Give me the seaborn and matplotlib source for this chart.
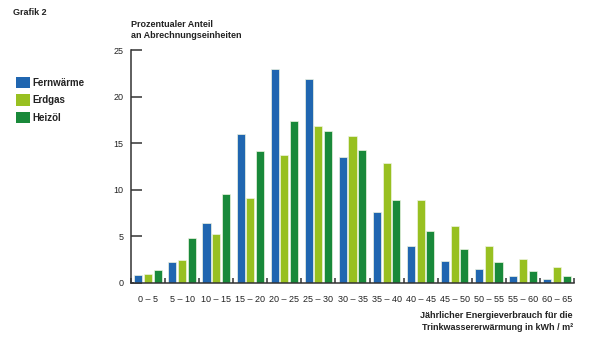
import matplotlib
matplotlib.use("Agg")
import matplotlib.pyplot as plt
import seaborn as sns
import pandas as pd
import numpy as np
from matplotlib.patches import Patch

categories = ["0 – 5", "5 – 10", "10 – 15", "15 – 20", "20 – 25", "25 – 30", "30 – 35",
              "35 – 40", "40 – 45", "45 – 50", "50 – 55", "55 – 60", "60 – 65"]
fernwaerme = [0.83, 2.2, 6.4, 16.0, 23.0, 21.9, 13.5, 7.6, 4.0, 2.4, 1.45, 0.72, 0.43]
erdgas = [0.97, 2.47, 5.3, 9.15, 13.7, 16.8, 15.77, 12.85, 8.9, 6.08, 4.0, 2.6, 1.72]
heizoel = [1.43, 4.83, 9.6, 14.15, 17.4, 16.3, 14.27, 8.94, 5.58, 3.65, 2.2, 1.25, 0.79]
series_names = ["Fernwärme", "Erdgas", "Heizöl"]
colors = ["#2066b0", "#98c021", "#19893a"]

df = pd.DataFrame({
    "Bereich": categories * 3,
    "Wert": fernwaerme + erdgas + heizoel,
    "Energie": [series_names[0]] * len(categories) + [series_names[1]] * len(categories)
               + [series_names[2]] * len(categories),
})

sns.set_theme(style="white")
plt.rcParams['font.family'] = ['Liberation Sans', 'DejaVu Sans']

fig = plt.figure(figsize=(6.01, 3.45), dpi=100)
ax = fig.add_axes([131 / 601, 1 - 283 / 345, (574 - 131) / 601, (283 - 50) / 345])

sns.barplot(data=df, x="Bereich", y="Wert", hue="Energie", order=categories,
            hue_order=series_names, palette=colors, width=0.855, gap=0.17,
            edgecolor="#eef4e0", linewidth=0.5, ax=ax, legend=False, saturation=1)

ax.set_xlim(-0.5, len(categories) - 0.5)
ax.set_ylim(0, 25)
ax.set_yticks([0, 5, 10, 15, 20, 25])
ax.set_xlabel("")
ax.set_ylabel("")

for s in ["top", "right"]:
    ax.spines[s].set_visible(False)
for s in ["left", "bottom"]:
    ax.spines[s].set_color("#333333")
    ax.spines[s].set_linewidth(1.1)

ax.tick_params(axis="y", direction="in", length=7.9, width=1.1, color="#333333",
               pad=5.5, labelsize=6.5, labelcolor="#222222", left=True)
ax.tick_params(axis="x", which="major", length=0, pad=9, labelsize=6.5, labelcolor="#222222")
ax.set_xticks(np.arange(-0.5, len(categories) + 0.5, 1.0), minor=True)
ax.tick_params(axis="x", which="minor", direction="in", length=3.6, width=1.1,
               color="#333333", bottom=True)

fig.text(13 / 601, 1 - 12.5 / 345, "Grafik 2", fontsize=6.5, fontweight="bold",
         color="#222222", va="center", ha="left")
fig.text(131 / 601, 1 - 30 / 345, "Prozentualer Anteil\nan Abrechnungseinheiten",
         fontsize=6.5, fontweight="bold", color="#222222", va="center", ha="left",
         linespacing=1.35)
fig.text(573 / 601, 1 - 321.5 / 345,
         "Jährlicher Energieverbrauch für die\nTrinkwassererwärmung in kWh / m²",
         fontsize=6.5, fontweight="bold", color="#222222", va="center", ha="right",
         linespacing=1.35)

handles = [Patch(facecolor=c, edgecolor="none") for c in colors]
leg = fig.legend(handles, series_names, loc="upper left",
                 bbox_to_anchor=(9 / 601, 1 - 70 / 345), frameon=False,
                 fontsize=7, handlelength=1.45, handleheight=1.45,
                 handletextpad=0.3, labelspacing=0.6, borderpad=0.2)
for t in leg.get_texts():
    t.set_fontweight("bold")
    t.set_color("#222222")

fig.savefig("out.png", dpi=100, facecolor="white")
